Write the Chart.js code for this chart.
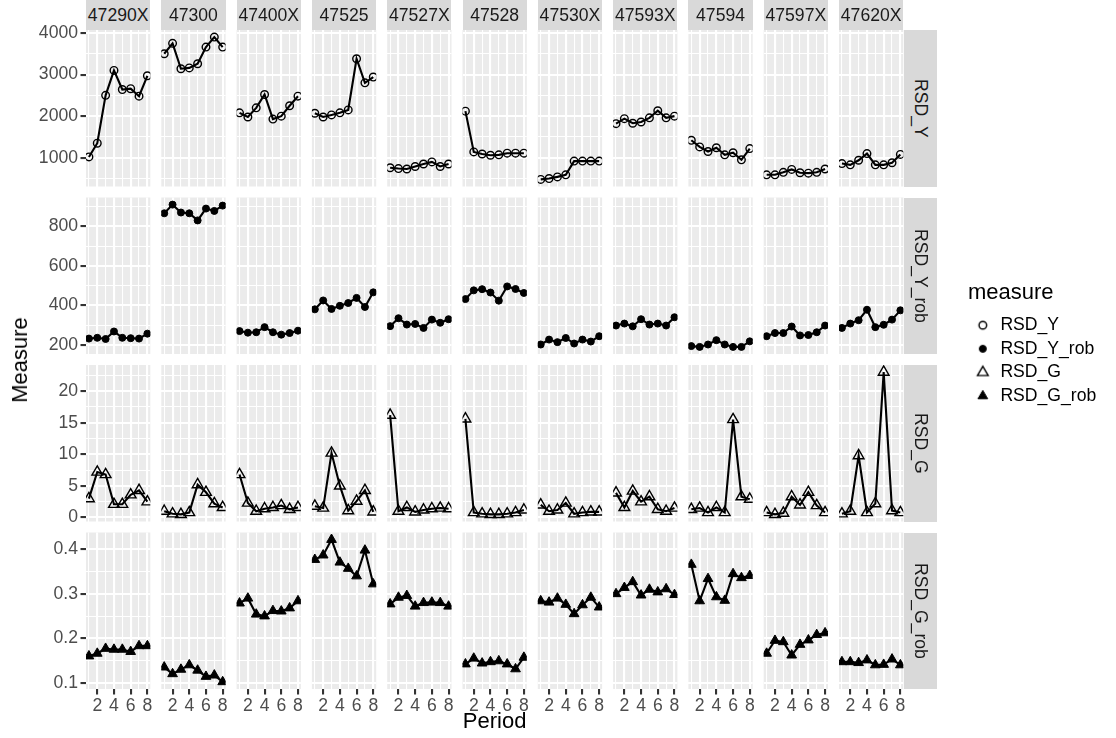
<!DOCTYPE html>
<html>
<head>
<meta charset="utf-8">
<script src="https://cdn.jsdelivr.net/npm/chart.js@4.4.1/dist/chart.umd.min.js"></script>
<style>
  body { margin: 0; background: #fff; width: 1116px; height: 738px; overflow: hidden; position: relative;
         font-family: "Liberation Sans", Arial, Helvetica, sans-serif; }
  canvas { position: absolute; }
  .strip { position: absolute; background: #d9d9d9; color: #1a1a1a; font-size: 17.6px;
           display: flex; align-items: center; justify-content: center; white-space: nowrap; }
  .strip.side span { writing-mode: vertical-rl; }
  .title { position: absolute; color: #000; font-size: 22px; white-space: nowrap; }
</style>
</head>
<body>
<script>
// Facet data: one array per station (columns), 8 periods each
const stations = ['47290X', '47300', '47400X', '47525', '47527X', '47528', '47530X', '47593X', '47594', '47597X', '47620X'];
const periods = [1, 2, 3, 4, 5, 6, 7, 8];
const measures = ['RSD_Y', 'RSD_Y_rob', 'RSD_G', 'RSD_G_rob'];

const rsdY = [
    [1020, 1350, 2500, 3100, 2640, 2660, 2480, 2970],
    [3500, 3750, 3140, 3160, 3260, 3660, 3900, 3660],
    [2080, 1980, 2200, 2520, 1930, 2000, 2250, 2480],
    [2070, 1980, 2030, 2080, 2150, 3380, 2800, 2940],
    [760, 740, 730, 790, 850, 900, 790, 850],
    [2120, 1140, 1090, 1060, 1070, 1110, 1110, 1110],
    [480, 500, 540, 590, 920, 920, 920, 920],
    [1820, 1940, 1830, 1860, 1960, 2130, 1960, 2000],
    [1420, 1260, 1150, 1240, 1070, 1120, 950, 1220],
    [590, 590, 650, 720, 640, 630, 650, 730],
    [860, 830, 940, 1100, 830, 830, 880, 1080]
];

const rsdYRob = [
    [232, 236, 230, 268, 236, 234, 232, 257],
    [866, 910, 870, 866, 830, 890, 878, 905],
    [270, 262, 264, 290, 264, 252, 260, 272],
    [380, 425, 382, 398, 412, 438, 392, 466],
    [295, 335, 303, 306, 286, 328, 312, 330],
    [432, 476, 482, 465, 424, 496, 483, 463],
    [202, 227, 214, 235, 207, 227, 217, 244],
    [298, 308, 294, 330, 303, 308, 298, 340],
    [194, 190, 202, 224, 202, 190, 190, 218],
    [244, 260, 260, 293, 248, 250, 264, 298],
    [286, 308, 325, 378, 290, 302, 328, 375]
];

const rsdG = [
    [3.0, 7.2, 6.8, 2.1, 2.1, 3.6, 4.3, 2.5],
    [1.0, 0.6, 0.5, 0.8, 5.2, 4.0, 2.2, 1.6],
    [6.8, 2.3, 1.0, 1.4, 1.6, 1.9, 1.3, 1.6],
    [1.8, 1.5, 10.2, 5.0, 1.1, 2.6, 4.3, 0.9],
    [16.2, 1.0, 1.6, 0.9, 1.2, 1.4, 1.5, 1.4],
    [15.6, 0.8, 0.6, 0.5, 0.5, 0.6, 0.8, 1.2],
    [2.0, 1.0, 1.2, 2.3, 0.6, 0.8, 0.9, 0.9],
    [3.9, 1.6, 4.2, 2.5, 3.3, 1.3, 1.0, 1.5],
    [1.3, 1.5, 0.8, 1.6, 0.8, 15.5, 3.3, 2.9],
    [0.8, 0.5, 0.7, 3.3, 2.0, 4.0, 1.9, 0.8],
    [0.6, 1.0, 9.8, 0.8, 2.2, 23.0, 1.1, 0.8]
];

const rsdGRob = [
    [0.160, 0.166, 0.177, 0.175, 0.175, 0.170, 0.183, 0.183],
    [0.135, 0.120, 0.130, 0.140, 0.128, 0.114, 0.117, 0.102],
    [0.279, 0.290, 0.254, 0.250, 0.262, 0.261, 0.268, 0.284],
    [0.377, 0.387, 0.422, 0.371, 0.357, 0.340, 0.398, 0.322],
    [0.277, 0.292, 0.296, 0.272, 0.280, 0.281, 0.280, 0.272],
    [0.142, 0.155, 0.144, 0.147, 0.149, 0.142, 0.131, 0.157],
    [0.284, 0.281, 0.290, 0.276, 0.255, 0.275, 0.292, 0.270],
    [0.300, 0.314, 0.327, 0.297, 0.310, 0.304, 0.311, 0.298],
    [0.366, 0.284, 0.334, 0.293, 0.285, 0.345, 0.336, 0.341],
    [0.166, 0.195, 0.192, 0.162, 0.186, 0.196, 0.208, 0.212],
    [0.147, 0.147, 0.145, 0.151, 0.140, 0.141, 0.153, 0.140]
];

// Axis breaks
const xMajor = [2, 4, 6, 8];
const xMinor = [1, 3, 5, 7];
const yMajor = [[1000, 2000, 3000, 4000], [200, 400, 600, 800], [0, 5, 10, 15, 20], [0.1, 0.2, 0.3, 0.4]];
const yMinor = [[500, 1500, 2500, 3500], [300, 500, 700, 900], [2.5, 7.5, 12.5, 17.5, 22.5], [0.15, 0.25, 0.35]];
const yLabels = [['1000', '2000', '3000', '4000'], ['200', '400', '600', '800'], ['0', '5', '10', '15', '20'], ['0.1', '0.2', '0.3', '0.4']];

const series = [rsdY, rsdYRob, rsdG, rsdGRob];

// Marker look per measure
const pointStyles = ['circle', 'circle', 'triangle', 'triangle'];
const filled = [false, true, false, true];
const pointSizes = [3.8, 3.5, 6.2, 5.6];

const FONT = '"Liberation Sans", Arial, Helvetica, sans-serif';

// Layout (ggplot facet grid)
const X0 = 86, COL_PITCH = 75.3, PANEL_W = 64.3;
const Y0 = 30, ROW_PITCH = 167.5, PANEL_H = 156.5;
const AXIS_W = 56, AXIS_H = 30, PAD = 12;

function expand(values, mult) {
    const lo = Math.min(...values), hi = Math.max(...values);
    const pad = (hi - lo) * mult;
    return [lo - pad, hi + pad];
}

const xLimits = expand(periods, 0.05);

const panelBg = {
    id: 'panelBg',
    beforeDraw(chart) {
        const a = chart.chartArea;
        const ctx = chart.ctx;
        ctx.save();
        ctx.fillStyle = '#ebebeb';
        ctx.fillRect(a.left, a.top, a.right - a.left, a.bottom - a.top);
        ctx.restore();
    }
};

function gridOptions(major, showTicks) {
    return {
        color: '#ffffff',
        lineWidth: ctx => major.includes(ctx.tick.value) ? 2.1 : 1.07,
        drawTicks: showTicks,
        tickLength: 5.5,
        tickWidth: 2.1,
        tickColor: ctx => major.includes(ctx.tick.value) ? '#333333' : 'rgba(0,0,0,0)'
    };
}

function makePanel(r, c) {
    const values = series[r][c];
    const yLimits = expand(series[r].flat(), 0.05);
    const showY = c === 0;
    const showX = r === measures.length - 1;

    const L = X0 + c * COL_PITCH, T = Y0 + r * ROW_PITCH;
    const R = L + PANEL_W, B = T + PANEL_H;
    const axL = showY ? AXIS_W : 0, axB = showX ? AXIS_H : 0;
    const cl = Math.floor(L - axL - PAD), ct = Math.floor(T - PAD);
    const cr = Math.ceil(R + PAD), cb = Math.ceil(B + axB + PAD);

    const canvas = document.createElement('canvas');
    canvas.width = cr - cl;
    canvas.height = cb - ct;
    canvas.style.left = cl + 'px';
    canvas.style.top = ct + 'px';
    document.body.appendChild(canvas);

    const xTicks = xMinor.concat(xMajor).sort((a, b) => a - b);
    const yTicks = yMinor[r].concat(yMajor[r]).sort((a, b) => a - b);

    new Chart(canvas, {
        type: 'line',
        data: {
            datasets: [{
                label: measures[r],
                data: periods.map((p, i) => ({ x: p, y: values[i] })),
                borderColor: '#000',
                borderWidth: 2.1,
                tension: 0,
                pointStyle: pointStyles[r],
                pointRadius: pointSizes[r],
                pointBorderWidth: filled[r] ? 1 : 1.4,
                pointBorderColor: '#000',
                pointBackgroundColor: filled[r] ? '#000' : 'rgba(0,0,0,0)'
            }]
        },
        options: {
            responsive: false,
            animation: false,
            events: [],
            layout: {
                autoPadding: false,
                padding: { left: L - axL - cl, top: T - ct, right: cr - R, bottom: cb - B - axB }
            },
            plugins: { legend: { display: false }, tooltip: { enabled: false } },
            scales: {
                x: {
                    type: 'linear',
                    min: xLimits[0],
                    max: xLimits[1],
                    afterBuildTicks: s => { s.ticks = xTicks.map(v => ({ value: v })); },
                    afterFit: s => { s.height = axB; s.paddingLeft = 0; s.paddingRight = 0; },
                    grid: gridOptions(xMajor, showX),
                    border: { display: false },
                    ticks: {
                        display: showX,
                        autoSkip: false,
                        maxRotation: 0,
                        minRotation: 0,
                        padding: 1.5,
                        color: '#4d4d4d',
                        font: { family: FONT, size: 17.6 },
                        callback: v => xMajor.includes(v) ? String(v) : ''
                    }
                },
                y: {
                    type: 'linear',
                    min: yLimits[0],
                    max: yLimits[1],
                    afterBuildTicks: s => { s.ticks = yTicks.map(v => ({ value: v })); },
                    afterFit: s => { s.width = axL; s.paddingTop = 0; s.paddingBottom = 0; },
                    grid: gridOptions(yMajor[r], showY),
                    border: { display: false },
                    ticks: {
                        display: showY,
                        autoSkip: false,
                        padding: 2.5,
                        color: '#4d4d4d',
                        font: { family: FONT, size: 17.6 },
                        callback: v => {
                            const k = yMajor[r].indexOf(v);
                            return k >= 0 ? yLabels[r][k] : '';
                        }
                    }
                }
            }
        },
        plugins: [panelBg]
    });
}

function addDiv(cls, text, css) {
    const d = document.createElement('div');
    d.className = cls;
    d.innerHTML = '<span></span>';
    d.firstChild.textContent = text;
    Object.assign(d.style, css);
    document.body.appendChild(d);
    return d;
}

measures.forEach((m, r) => stations.forEach((s, c) => makePanel(r, c)));

// Facet strips
stations.forEach((s, c) => {
    addDiv('strip', s, { left: (X0 + c * COL_PITCH) + 'px', top: '0px', width: PANEL_W + 'px', height: Y0 + 'px' });
});
const stripX = X0 + (stations.length - 1) * COL_PITCH + PANEL_W + 0.7;
measures.forEach((m, r) => {
    addDiv('strip side', m, { left: stripX + 'px', top: (Y0 + r * ROW_PITCH) + 'px', width: '33.3px', height: PANEL_H + 'px' });
});

// Axis titles
const gridMidX = X0 + ((stations.length - 1) * COL_PITCH + PANEL_W) / 2;
const gridMidY = Y0 + ((measures.length - 1) * ROW_PITCH + PANEL_H) / 2;
addDiv('title', 'Period', { left: gridMidX + 'px', top: '708px', transform: 'translateX(-50%)' });
addDiv('title', 'Measure', { left: '20px', top: gridMidY + 'px', transform: 'translate(-50%, -50%) rotate(-90deg)' });

// Legend key glyphs, drawn with the same point helper as the panels
function legendGlyph(i) {
    const g = document.createElement('canvas');
    g.width = 18;
    g.height = 18;
    const ctx = g.getContext('2d');
    ctx.fillStyle = filled[i] ? '#000' : 'rgba(0,0,0,0)';
    ctx.strokeStyle = '#000';
    ctx.lineWidth = filled[i] ? 1 : 1.4;
    Chart.helpers.drawPoint(ctx, {
        pointStyle: pointStyles[i],
        radius: pointSizes[i],
        rotation: 0,
        borderWidth: filled[i] ? 1 : 1.4
    }, 9, 9);
    return g;
}

const legendCanvas = document.createElement('canvas');
legendCanvas.width = 148;
legendCanvas.height = 150;
legendCanvas.style.left = '968px';
legendCanvas.style.top = '282px';
document.body.appendChild(legendCanvas);

new Chart(legendCanvas, {
    type: 'line',
    data: { datasets: [] },
    options: {
        responsive: false,
        animation: false,
        events: [],
        layout: { padding: 0, autoPadding: false },
        scales: { x: { display: false }, y: { display: false } },
        plugins: {
            tooltip: { enabled: false },
            legend: {
                display: true,
                position: 'left',
                align: 'start',
                maxWidth: 200,
                title: {
                    display: true,
                    text: 'measure',
                    position: 'start',
                    color: '#000',
                    padding: { top: 0, bottom: 2 },
                    font: { family: FONT, size: 22 }
                },
                labels: {
                    usePointStyle: true,
                    boxHeight: 6.4,
                    boxWidth: 17.6,
                    padding: 6,
                    color: '#000',
                    font: { family: FONT, size: 17.6 },
                    generateLabels: () => measures.map((m, i) => ({
                        text: m,
                        fillStyle: filled[i] ? '#000' : 'rgba(0,0,0,0)',
                        strokeStyle: '#000',
                        lineWidth: 1.4,
                        pointStyle: legendGlyph(i),
                        hidden: false,
                        fontColor: '#000'
                    }))
                }
            }
        }
    }
});
</script>
</body>
</html>
